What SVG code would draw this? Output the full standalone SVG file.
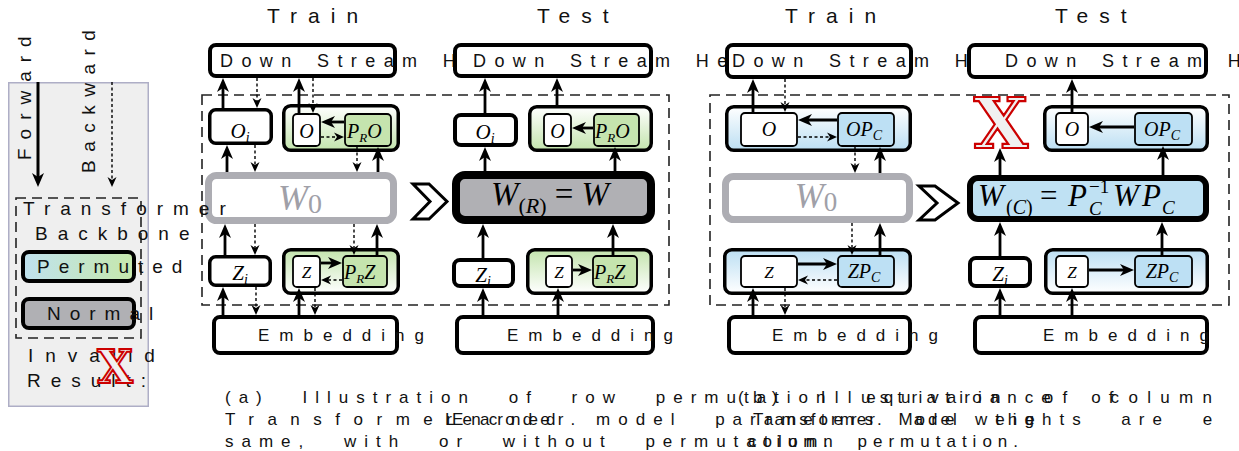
<svg xmlns="http://www.w3.org/2000/svg" width="1239" height="451" viewBox="0 0 1239 451">
<style>
.lbl{font-family:"Liberation Sans",Arial,sans-serif;fill:#111;}
.ttl{font-size:21px;letter-spacing:11px;}
.ds{font-size:18px;letter-spacing:8.4px;word-spacing:4px;}
.emb{font-size:17px;letter-spacing:10px;}
.lg{font-size:19px;letter-spacing:9px;}
.cap{font-size:17px;letter-spacing:8px;word-spacing:20px;}
.m{font-family:"Liberation Serif","Times New Roman",serif;font-style:italic;fill:#000;}
.box{fill:#fff;stroke:#000;stroke-width:4;}
.sm{stroke:#000;stroke-width:3.5;}
.in{stroke:#000;stroke-width:1.8;}
.dash{fill:none;stroke:#222;stroke-width:1.6;stroke-dasharray:10 6;}
.s{stroke:#000;stroke-width:2.8;fill:none;marker-end:url(#ah);}
.d{stroke:#000;stroke-width:1.4;fill:none;stroke-dasharray:3 2.5;marker-end:url(#ahd);}
.chev{fill:#fff;stroke:#000;stroke-width:3;stroke-linejoin:miter;}
.xm{font-family:"DejaVu Serif","Liberation Serif",serif;font-weight:bold;stroke:#cc0000;stroke-width:2.2;}
</style>
<defs>
<marker id="ah" markerUnits="userSpaceOnUse" markerWidth="14" markerHeight="14" viewBox="0 0 14 14" refX="9" refY="7" orient="auto"><path d="M0,1 L14,7 L0,13 L4,7 z" fill="#000"/></marker>
<marker id="ahd" markerUnits="userSpaceOnUse" markerWidth="10" markerHeight="10" viewBox="0 0 10 10" refX="6" refY="5" orient="auto"><path d="M0,0.5 L10,5 L0,9.5 L3,5 z" fill="#000"/></marker>
<linearGradient id="gUpG" x1="0" y1="0" x2="0" y2="1"><stop offset="0" stop-color="#ffffff"/><stop offset="1" stop-color="#c3e4ad"/></linearGradient>
<linearGradient id="gDnG" x1="0" y1="0" x2="0" y2="1"><stop offset="0" stop-color="#c3e4ad"/><stop offset="1" stop-color="#ffffff"/></linearGradient>
<linearGradient id="gUpB" x1="0" y1="0" x2="0" y2="1"><stop offset="0" stop-color="#ffffff"/><stop offset="1" stop-color="#bcdff3"/></linearGradient>
<linearGradient id="gDnB" x1="0" y1="0" x2="0" y2="1"><stop offset="0" stop-color="#bcdff3"/><stop offset="1" stop-color="#ffffff"/></linearGradient>
<linearGradient id="gLeg" x1="0" y1="0" x2="1" y2="0"><stop offset="0" stop-color="#c0e2ef"/><stop offset="1" stop-color="#c6e8ab"/></linearGradient>
</defs>
<rect width="1239" height="451" fill="#fff"/>

<!-- dashed transformer regions -->
<rect class="dash" x="202" y="95" width="467" height="210"/>
<rect class="dash" x="710" y="95" width="519" height="210"/>

<!-- Panel a Train -->
<g id="a-train">
<text class="lbl ttl" x="267" y="23">Train</text>
<g id="a-train-ds"><rect class="box" x="210" y="45" width="185" height="31" rx="6"/><text class="lbl ds" x="220" y="67">Down Stream Head</text></g>
<g id="a-train-oi"><rect class="box sm" x="209.75" y="109.75" width="61.5" height="33.5" rx="6"/><text class="m" x="240" y="138" font-size="21" text-anchor="middle">O<tspan font-size="14" dy="4">i</tspan></text></g>
<g id="a-train-og"><rect class="sm" fill="url(#gUpG)" x="283.75" y="105.75" width="114.5" height="44.5" rx="7"/>
<rect class="in" fill="#fff" x="293" y="114" width="27" height="32" rx="4"/><text class="m" x="306.5" y="138" font-size="20" text-anchor="middle">O</text>
<rect class="in" fill="#c5e4ae" x="345" y="114" width="46" height="32" rx="4"/><text class="m" x="347" y="138" font-size="20">P<tspan font-size="13" dy="4">R</tspan><tspan dy="-4">O</tspan></text></g>
<g id="a-train-w0"><rect fill="#fff" stroke="#adadb3" stroke-width="7" x="208.5" y="175.5" width="185" height="45" rx="8"/><text class="m" x="300" y="210" font-size="36" style="fill:#a0a0a8" text-anchor="middle">W<tspan font-size="28" dy="3" style="font-style:normal">0</tspan></text></g>
<g id="a-train-zi"><rect class="box sm" x="209.75" y="256.75" width="60.5" height="28.5" rx="6"/><text class="m" x="240" y="280" font-size="21" text-anchor="middle">Z<tspan font-size="14" dy="4">i</tspan></text></g>
<g id="a-train-zg"><rect class="sm" fill="url(#gDnG)" x="283.75" y="249.75" width="114.5" height="43.5" rx="7"/>
<rect class="in" fill="#fff" x="293" y="256" width="27" height="31" rx="4"/><text class="m" x="306.5" y="278" font-size="17" text-anchor="middle">Z</text>
<rect class="in" fill="#c5e4ae" x="343" y="256" width="44" height="31" rx="4"/><text class="m" x="344" y="279" font-size="20">P<tspan font-size="13" dy="4">R</tspan><tspan dy="-4">Z</tspan></text></g>
<g id="a-train-emb"><rect class="box" x="214" y="317" width="183" height="36" rx="6"/><text class="lbl emb" x="258" y="341">Embedding</text></g>
</g>

<polygon id="chev-a" class="chev" points="413,184 429,184 447,201.5 429,219 413,219 430,201.5"/>

<!-- Panel a Test -->
<g id="a-test">
<text class="lbl ttl" x="537" y="23">Test</text>
<g id="a-test-ds"><rect class="box" x="455" y="45" width="196" height="31" rx="6"/><text class="lbl ds" x="473" y="67">Down Stream Head</text></g>
<g id="a-test-oi"><rect class="box" x="455" y="115" width="61" height="30" rx="6"/><text class="m" x="485" y="139" font-size="21" text-anchor="middle">O<tspan font-size="14" dy="4">i</tspan></text></g>
<g id="a-test-og"><rect class="sm" fill="url(#gUpG)" x="529.75" y="106.75" width="121.5" height="43.5" rx="7"/>
<rect class="in" fill="#fff" x="544" y="114" width="27" height="32" rx="4"/><text class="m" x="557.5" y="138" font-size="20" text-anchor="middle">O</text>
<rect class="in" fill="#c5e4ae" x="594" y="114" width="45" height="32" rx="4"/><text class="m" x="595" y="138" font-size="20">P<tspan font-size="13" dy="4">R</tspan><tspan dy="-4">O</tspan></text></g>
<g id="a-test-w"><rect fill="#b0b0b4" stroke="#000" stroke-width="8" x="456" y="175" width="195" height="45" rx="9"/><text class="m" x="550" y="205" font-size="33" text-anchor="middle">W<tspan font-size="22" dy="8" style="font-style:normal">(</tspan><tspan font-size="22">R</tspan><tspan font-size="22" style="font-style:normal">)</tspan><tspan dy="-8" style="font-style:normal"> = </tspan>W</text></g>
<g id="a-test-zi"><rect class="box" x="454" y="260" width="59" height="26" rx="6"/><text class="m" x="483" y="282" font-size="21" text-anchor="middle">Z<tspan font-size="14" dy="4">i</tspan></text></g>
<g id="a-test-zg"><rect class="sm" fill="url(#gDnG)" x="527.75" y="249.75" width="123.5" height="43.5" rx="7"/>
<rect class="in" fill="#fff" x="546" y="256" width="26" height="31" rx="4"/><text class="m" x="559" y="278" font-size="17" text-anchor="middle">Z</text>
<rect class="in" fill="#c5e4ae" x="593" y="256" width="44" height="31" rx="4"/><text class="m" x="594" y="279" font-size="20">P<tspan font-size="13" dy="4">R</tspan><tspan dy="-4">Z</tspan></text></g>
<g id="a-test-emb"><rect class="box" x="457" y="317" width="196" height="36" rx="6"/><text class="lbl emb" x="507" y="341">Embedding</text></g>
</g>

<!-- Panel b Train -->
<g id="b-train">
<text class="lbl ttl" x="785" y="23">Train</text>
<g id="b-train-ds"><rect class="box" x="727" y="45" width="184" height="32" rx="6"/><text class="lbl ds" x="732" y="67">Down Stream Head</text></g>
<g id="b-train-og"><rect class="sm" fill="url(#gUpB)" x="726.75" y="106.75" width="183.5" height="43.5" rx="7"/>
<rect class="in" fill="#fff" x="741" y="113" width="56" height="33" rx="4"/><text class="m" x="769" y="136" font-size="20" text-anchor="middle">O</text>
<rect class="in" fill="#bde0f4" x="838" y="113" width="56" height="33" rx="4"/><text class="m" x="864" y="136" font-size="20" text-anchor="middle">OP<tspan font-size="14" dy="4">C</tspan></text></g>
<g id="b-train-w0"><rect fill="#fff" stroke="#adadb3" stroke-width="7" x="725.5" y="176.5" width="184" height="43" rx="8"/><text class="m" x="816" y="208" font-size="35" style="fill:#a0a0a8" text-anchor="middle">W<tspan font-size="27" dy="3" style="font-style:normal">0</tspan></text></g>
<g id="b-train-zg"><rect class="sm" fill="url(#gDnB)" x="724.75" y="249.75" width="185.5" height="43.5" rx="7"/>
<rect class="in" fill="#fff" x="741" y="256" width="56" height="31" rx="4"/><text class="m" x="769" y="278" font-size="17" text-anchor="middle">Z</text>
<rect class="in" fill="#bde0f4" x="838" y="256" width="56" height="31" rx="4"/><text class="m" x="864" y="278" font-size="20" text-anchor="middle">ZP<tspan font-size="14" dy="4">C</tspan></text></g>
<g id="b-train-emb"><rect class="box" x="729" y="317" width="181" height="36" rx="6"/><text class="lbl emb" x="772" y="341">Embedding</text></g>
</g>

<polygon id="chev-b" class="chev" points="919,186 935,186 958,203 935,220 919,220 937,203"/>

<!-- Panel b Test -->
<g id="b-test">
<text class="lbl ttl" x="1055" y="23">Test</text>
<g id="b-test-ds"><rect class="box" x="969" y="45" width="237" height="32" rx="6"/><text class="lbl ds" x="1005" y="67">Down Stream H</text></g>
<g id="b-test-x"><text class="xm" x="1001" y="148" font-size="70" fill="#f0f0f0" text-anchor="middle">X</text></g>
<g id="b-test-og"><rect class="sm" fill="url(#gUpB)" x="1044.75" y="106.75" width="162.5" height="43.5" rx="7"/>
<rect class="in" fill="#fff" x="1056" y="113" width="32" height="32" rx="4"/><text class="m" x="1072" y="136" font-size="20" text-anchor="middle">O</text>
<rect class="in" fill="#bde0f4" x="1135" y="113" width="57" height="32" rx="4"/><text class="m" x="1162" y="136" font-size="20" text-anchor="middle">OP<tspan font-size="14" dy="4">C</tspan></text></g>
<g id="b-test-w"><rect fill="#bfe1f3" stroke="#000" stroke-width="6" x="970" y="178" width="236" height="41" rx="8"/>
<text class="m" y="206" font-size="31"><tspan x="978">W</tspan><tspan x="1006" y="214" font-size="20" style="font-style:normal">(</tspan><tspan font-size="20">C</tspan><tspan font-size="20" style="font-style:normal">)</tspan><tspan x="1040" y="206" style="font-style:normal">=</tspan><tspan x="1068">P</tspan><tspan x="1089" y="193" font-size="19" style="font-style:normal">−1</tspan><tspan x="1089" y="215" font-size="19">C</tspan><tspan x="1113" y="206">W</tspan><tspan x="1142">P</tspan><tspan x="1162" y="214" font-size="19">C</tspan></text></g>
<g id="b-test-zi"><rect class="box" x="970" y="258" width="60" height="28" rx="6"/><text class="m" x="1000" y="281" font-size="21" text-anchor="middle">Z<tspan font-size="14" dy="4">i</tspan></text></g>
<g id="b-test-zg"><rect class="sm" fill="url(#gDnB)" x="1045.75" y="249.75" width="161.5" height="43.5" rx="7"/>
<rect class="in" fill="#fff" x="1056" y="256" width="32" height="31" rx="4"/><text class="m" x="1072" y="278" font-size="17" text-anchor="middle">Z</text>
<rect class="in" fill="#bde0f4" x="1135" y="256" width="57" height="31" rx="4"/><text class="m" x="1162" y="278" font-size="20" text-anchor="middle">ZP<tspan font-size="14" dy="4">C</tspan></text></g>
<g id="b-test-emb"><rect class="box" x="975" y="317" width="232" height="36" rx="6"/><text class="lbl emb" x="1043" y="341">Embedding</text></g>
</g>

<!-- Legend -->
<g id="legend">
<rect x="8.75" y="82.75" width="139.5" height="323.5" fill="#efefef" stroke="#aeaec6" stroke-width="1.5"/>
<text class="lbl lg" transform="translate(31,160) rotate(-90)">Forward</text>
<text class="lbl lg" transform="translate(95,173) rotate(-90)" style="letter-spacing:8.5px">Backward</text>
<rect class="dash" x="16" y="198" width="125" height="140"/>
<text class="lbl lg" x="23" y="215" style="letter-spacing:10px">Transformer</text>
<text class="lbl lg" x="35" y="240" style="letter-spacing:10px">Backbone</text>
<rect class="box" style="fill:url(#gLeg)" x="23" y="252" width="111" height="29" rx="6"/>
<text class="lbl lg" x="37" y="273">Permuted</text>
<rect class="box" style="fill:#b0b0b4" x="23" y="299" width="111" height="29" rx="6"/>
<text class="lbl lg" x="47" y="320">Normal</text>
<text class="lbl lg" x="28" y="362" style="letter-spacing:12px">Invalid</text>
<text class="lbl lg" x="27" y="387" style="letter-spacing:10px">Result:</text>
<text class="xm" x="115" y="383" font-size="46" fill="#f0f0f0" text-anchor="middle" style="stroke-width:2">X</text>
</g>

<!-- Connectors -->
<g id="connectors">
<line class="s" x1="38" y1="82" x2="38" y2="182" style="stroke-width:3"/>
<line class="d" x1="112" y1="82" x2="112" y2="183"/>
<!-- a train -->
<line class="s" x1="223" y1="108" x2="223" y2="83"/>
<line class="d" x1="257" y1="78" x2="257" y2="104"/>
<line class="s" x1="299" y1="113" x2="299" y2="83"/>
<line class="d" x1="313" y1="78" x2="313" y2="109"/>
<line class="s" x1="344" y1="122" x2="326" y2="122"/>
<line class="d" x1="321" y1="137" x2="340" y2="137"/>
<line class="s" x1="227" y1="172" x2="227" y2="150"/>
<line class="d" x1="255" y1="145" x2="255" y2="168"/>
<line class="d" x1="357" y1="147" x2="357" y2="168"/>
<line class="s" x1="378" y1="172" x2="378" y2="152"/>
<line class="s" x1="225" y1="255" x2="225" y2="229"/>
<line class="d" x1="255" y1="224" x2="255" y2="251"/>
<line class="d" x1="354" y1="224" x2="354" y2="251"/>
<line class="s" x1="377" y1="255" x2="377" y2="229"/>
<line class="s" x1="321" y1="263" x2="337" y2="263"/>
<line class="d" x1="342" y1="280" x2="325" y2="280"/>
<line class="s" x1="223" y1="315" x2="223" y2="292"/>
<line class="d" x1="256" y1="287" x2="256" y2="311"/>
<line class="s" x1="299" y1="315" x2="299" y2="293"/>
<line class="d" x1="315" y1="288" x2="315" y2="311"/>
<!-- a test -->
<line class="s" x1="485" y1="113" x2="485" y2="83"/>
<line class="s" x1="557" y1="105" x2="557" y2="83"/>
<line class="s" x1="593" y1="128" x2="577" y2="128"/>
<line class="s" x1="485" y1="171" x2="485" y2="152"/>
<line class="s" x1="615" y1="171" x2="615" y2="152"/>
<line class="s" x1="483" y1="258" x2="483" y2="229"/>
<line class="s" x1="613" y1="255" x2="613" y2="229"/>
<line class="s" x1="573" y1="270" x2="587" y2="270"/>
<line class="s" x1="483" y1="315" x2="483" y2="293"/>
<line class="s" x1="558" y1="315" x2="558" y2="293"/>
<!-- b train -->
<line class="s" x1="753" y1="112" x2="753" y2="84"/>
<line class="d" x1="785" y1="79" x2="785" y2="108"/>
<line class="s" x1="837" y1="120" x2="803" y2="120"/>
<line class="d" x1="798" y1="137" x2="833" y2="137"/>
<line class="d" x1="855" y1="147" x2="855" y2="169"/>
<line class="s" x1="880" y1="173" x2="880" y2="152"/>
<line class="d" x1="852" y1="223" x2="852" y2="251"/>
<line class="s" x1="880" y1="255" x2="880" y2="228"/>
<line class="s" x1="798" y1="264" x2="832" y2="264"/>
<line class="d" x1="837" y1="280" x2="802" y2="280"/>
<line class="s" x1="753" y1="315" x2="753" y2="293"/>
<line class="d" x1="785" y1="288" x2="785" y2="311"/>
<!-- b test -->
<line class="s" x1="1000" y1="175" x2="1000" y2="153"/>
<line class="s" x1="1072" y1="112" x2="1072" y2="84"/>
<line class="s" x1="1134" y1="127" x2="1094" y2="127"/>
<line class="s" x1="1163" y1="175" x2="1163" y2="151"/>
<line class="s" x1="1000" y1="256" x2="1000" y2="227"/>
<line class="s" x1="1162" y1="255" x2="1162" y2="227"/>
<line class="s" x1="1089" y1="270" x2="1129" y2="270"/>
<line class="s" x1="1000" y1="315" x2="1000" y2="293"/>
<line class="s" x1="1072" y1="315" x2="1072" y2="293"/>
</g>

<!-- Captions -->
<g id="caption">
<text class="lbl cap" x="225" y="403">(a) Illustration of row permutation equivariance of</text>
<text class="lbl cap" x="225" y="425" style="letter-spacing:13.5px">Transformer</text>
<text class="lbl cap" x="452" y="425">Encoder.</text>
<text class="lbl cap" x="445" y="425">Learned model parameters are the</text>
<text class="lbl cap" x="225" y="447">same, with or without permutation.</text>
<text class="lbl cap" x="738" y="403" style="letter-spacing:9.3px">(b) Illustration of column</text>
<text class="lbl cap" x="753" y="425" style="letter-spacing:3px;word-spacing:6px">Transformer. Model</text>
<text class="lbl cap" x="975" y="425">weights are e</text>
<text class="lbl cap" x="748" y="447" style="letter-spacing:6px;word-spacing:8px">column permutation.</text>
</g>
</svg>
